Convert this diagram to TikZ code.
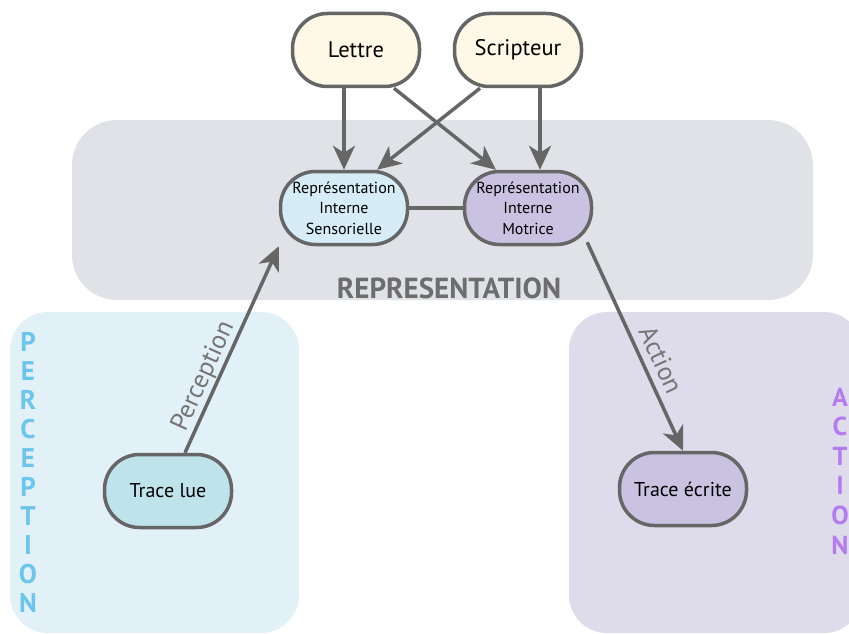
\documentclass[tikz,border=0pt]{standalone}
\usepackage{fontspec}
\setmainfont{PT Sans}
\usetikzlibrary{arrows.meta}
\definecolor{fondgris}{HTML}{E1E2E7}
\definecolor{fondbleu}{HTML}{E2F0F8}
\definecolor{fondmauve}{HTML}{DEDBEB}
\definecolor{creme}{HTML}{FEF8E7}
\definecolor{bleuclair}{HTML}{D6EDF7}
\definecolor{mauve}{HTML}{C9C3E1}
\definecolor{bleulue}{HTML}{BFE3EB}
\definecolor{trait}{HTML}{666666}
\definecolor{titre}{HTML}{6D6D6D}
\definecolor{bleuvif}{HTML}{6CC5EB}
\definecolor{violet}{HTML}{B47CF0}
\newcommand{\epais}{3.5pt}

\begin{document}
\begin{tikzpicture}[x=1pt,y=-1pt,
    boite/.style={draw=trait, line width=\epais, rounded corners=35pt,
      minimum width=127pt, minimum height=73pt, align=center},
    fleche/.style={draw=trait, line width=\epais,
      -{Stealth[length=24pt,width=22pt,inset=7pt]}},
    etiq/.style={text=trait!90, inner sep=1pt, font=\fontsize{26}{26}\selectfont}]
  \useasboundingbox (0,0) rectangle (849,634);
  % fonds
  \fill[fondgris, rounded corners=45pt] (72,120) rectangle (813,300);
  \fill[fondbleu, rounded corners=38pt] (10,312) rectangle (299,633);
  \fill[fondmauve, rounded corners=38pt] (569,312) rectangle (862,633);
      \node (lettre) at (356,50) [boite, fill=creme, font=\fontsize{22.5}{24}\selectfont] {Lettre};
      \node (scripteur) at (518,50) [boite, fill=creme, font=\fontsize{22.5}{24}\selectfont] {Scripteur};
      \node (sens) at (344,208) [boite, fill=bleuclair, font=\fontsize{16}{20.5}\selectfont] {Représentation\\Interne\\Sensorielle};
      \node (motrice) at (528,208) [boite, fill=mauve, font=\fontsize{16}{20.5}\selectfont] {Représentation\\Interne\\Motrice};
      \node (lue) at (168,491) [boite, fill=bleulue, font=\fontsize{20}{22}\selectfont] {Trace lue};
      \node (ecrite) at (683,489) [boite, fill=mauve, font=\fontsize{20}{22}\selectfont] {Trace écrite};
      \node (repr) at (449,288) [text=titre, font=\fontsize{29}{29}\bfseries] {REPRESENTATION};
      \node (percep) at (28,472) [text=bleuvif, align=center, font=\fontsize{27}{29}\bfseries] {P\\E\\R\\C\\E\\P\\T\\I\\O\\N};
      \node (act) at (840,471) [text=violet, align=center, font=\fontsize{26}{29.6}\bfseries] {A\\C\\T\\I\\O\\N};
  % liens
  \draw[fleche] (lettre.south -| sens.north) -- (sens.north);
  \draw[fleche] ([xshift=38pt]lettre.south) -- ([xshift=-32pt]motrice.north);
  \draw[fleche] ([xshift=-38pt]scripteur.south) -- ([xshift=33pt]sens.north);
  \draw[fleche] ([xshift=22pt]scripteur.south) -- ([xshift=12pt]motrice.north);
  \draw[trait, line width=\epais] (sens) -- (motrice);
  \draw[fleche] ([xshift=17pt]lue.north) -- (sens.south west)
      node[pos=.34, sloped, above=0pt, etiq] {Perception};
  \draw[fleche] ([shift={(-6,-4)}]motrice.south east) -- (ecrite.north)
      node[pos=.6, sloped, above=6pt, etiq] {Action};
\end{tikzpicture}
\end{document}
